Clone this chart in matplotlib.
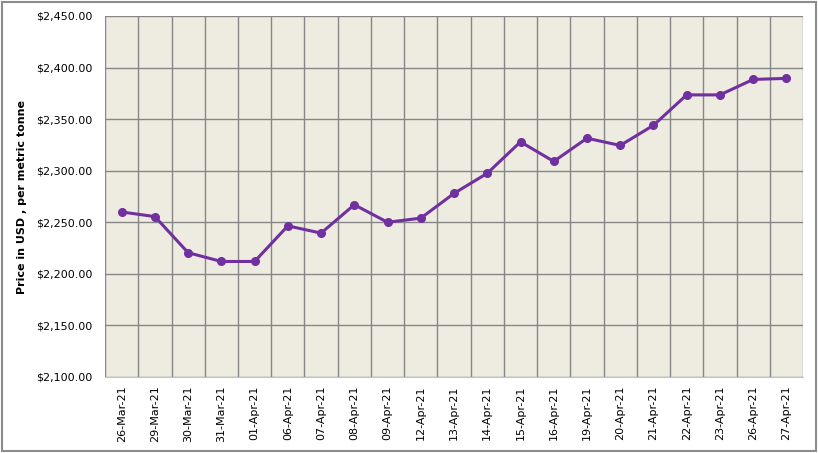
import matplotlib.pyplot as plt
import numpy as np
from matplotlib.ticker import FuncFormatter, FixedLocator

dates = ['26-Mar-21', '29-Mar-21', '30-Mar-21', '31-Mar-21', '01-Apr-21', '06-Apr-21',
         '07-Apr-21', '08-Apr-21', '09-Apr-21', '12-Apr-21', '13-Apr-21', '14-Apr-21',
         '15-Apr-21', '16-Apr-21', '19-Apr-21', '20-Apr-21', '21-Apr-21', '22-Apr-21',
         '23-Apr-21', '26-Apr-21', '27-Apr-21']
prices = [2260, 2255.5, 2220.5, 2212, 2212, 2246.5, 2239.5, 2267, 2250, 2254, 2278,
          2297.5, 2328, 2309, 2331.5, 2324.5, 2344, 2373.5, 2373.5, 2388.5, 2389.5]

fig = plt.figure(figsize=(8.18, 4.53), dpi=100)
# outer chart border
fig.patches.append(plt.Rectangle((0.003, 0.005), 0.994, 0.99, transform=fig.transFigure,
                                 fill=False, edgecolor='#8c8c8c', linewidth=1.5))
ax = fig.add_axes([0.1284, 0.1678, 0.8533, 0.7969])
ax.set_facecolor('#EEEBE0')

x = np.arange(len(dates))
ax.plot(x, prices, color='#7030A0', linewidth=2.2, marker='o', markersize=5.5, zorder=3)

ax.set_xlim(-0.5, len(dates) - 0.5)
ax.set_ylim(2100, 2450)
ax.set_yticks(np.arange(2100, 2451, 50))
ax.yaxis.set_major_formatter(FuncFormatter(lambda v, p: '${:,.2f}'.format(v)))
ax.set_xticks(x)
ax.set_xticklabels(dates, rotation=90)
ax.xaxis.set_minor_locator(FixedLocator(np.arange(-0.5, len(dates), 1)))

ax.grid(which='major', axis='y', color='#868686', linewidth=1)
ax.grid(which='minor', axis='x', color='#868686', linewidth=1)
ax.set_axisbelow(True)
ax.tick_params(which='both', length=0)
ax.tick_params(axis='y', labelsize=8, pad=9)
ax.tick_params(axis='x', labelsize=8, pad=6)

for s in ['top', 'right', 'left']:
    ax.spines[s].set_visible(False)
ax.spines['bottom'].set_color('#B9C4D8')

fig.text(0.027, 0.566, 'Price in USD , per metric tonne', rotation=90,
         ha='center', va='center', fontsize=8, fontweight='bold')

fig.savefig('out.png', dpi=100)
